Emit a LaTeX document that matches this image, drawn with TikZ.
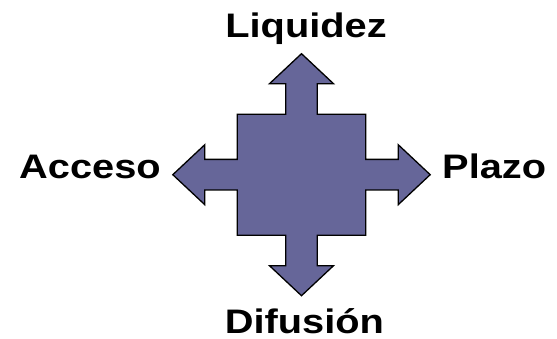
\documentclass[tikz,border=0pt]{standalone}
\usepackage{fontspec}
\setmainfont{Liberation Sans}
\usepackage{tikz}

\definecolor{arrowfill}{RGB}{102,102,153}

\tikzset{
  label/.style={font=\fontsize{34}{40}\selectfont\bfseries,inner sep=0pt,xscale=1.17},
  quad/.style={draw=black,line width=1.3pt,fill=arrowfill,line join=miter}
}

\begin{document}
\begin{tikzpicture}[x=1pt,y=1pt]
\useasboundingbox (0,0) rectangle (557,339);
% cross of four arrows
\draw[quad] (301.5,285.3) -- (333.5,255.3) -- (317.2,255.3) -- (317.2,224.8)
  -- (365.7,224.8) -- (365.7,179.6) -- (398.2,179.6) -- (398.2,194.3)
  -- (430.2,164.3) -- (398.2,134.3) -- (398.2,149) -- (365.7,149)
  -- (365.7,103.8) -- (317.2,103.8) -- (317.2,73.3) -- (333.5,73.3)
  -- (301.5,43.3) -- (269.5,73.3) -- (285.8,73.3) -- (285.8,103.8)
  -- (237.3,103.8) -- (237.3,149) -- (204.8,149) -- (204.8,134.3)
  -- (172.8,164.3) -- (204.8,194.3) -- (204.8,179.6) -- (237.3,179.6)
  -- (237.3,224.8) -- (285.8,224.8) -- (285.8,255.3) -- (269.5,255.3) -- cycle;
% labels
\node[label,anchor=base] (liq) at (306,301.3) {Liquidez};
\node[label,anchor=base] (dif) at (304.4,5.7) {Difusión};
\node[label,anchor=base east] (acc) at (161,160.7) {Acceso};
\node[label,anchor=base west] (pla) at (442,160.7) {Plazo};
\end{tikzpicture}
\end{document}
